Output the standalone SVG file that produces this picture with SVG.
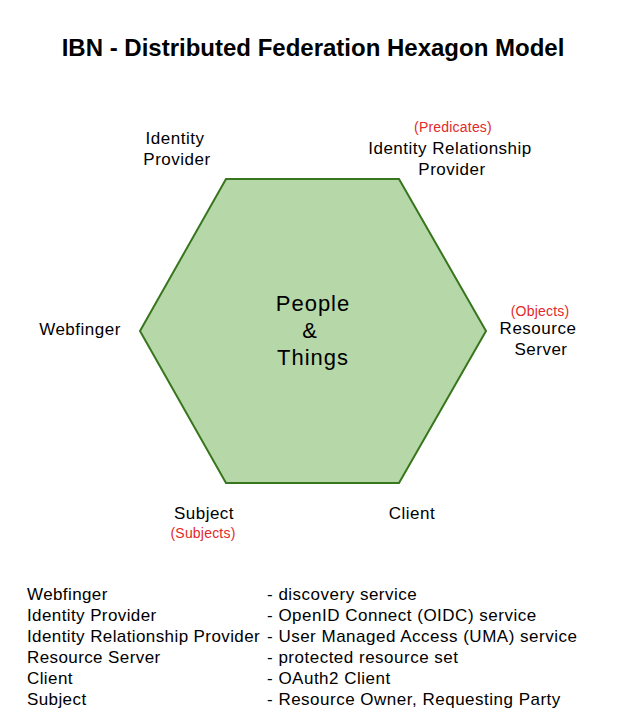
<svg xmlns="http://www.w3.org/2000/svg" width="624" height="720" viewBox="0 0 624 720">
<style>
text{font-family:"Liberation Sans",Arial,sans-serif;fill:#000}
.t{font-size:17px;letter-spacing:0.5px;text-anchor:middle}
.r{font-size:14px;letter-spacing:0.2px;text-anchor:middle;fill:#e12a2a}
.l{font-size:17px;letter-spacing:0.5px}
.ll{font-size:17px;letter-spacing:0.4px}
.title{font-size:24px;font-weight:bold;text-anchor:middle}
.c{font-size:22px;letter-spacing:1px;text-anchor:middle}
</style>
<rect width="624" height="720" fill="#fff"/>
<text class="title" x="313" y="56">IBN - Distributed Federation Hexagon Model</text>
<g id="hexagon">
<polygon points="226,179 399,179 486,331 399,483 226,483 140,331" fill="#b6d7a8" stroke="#38761d" stroke-width="2"/>
<text class="c" x="313" y="311">People</text>
<text class="c" x="310" y="338">&amp;</text>
<text class="c" x="313" y="365">Things</text>
</g>
<g id="identity-provider">
<text class="t" x="175" y="144">Identity</text>
<text class="t" x="177" y="165">Provider</text>
</g>
<g id="identity-relationship-provider">
<text class="r" x="453" y="132">(Predicates)</text>
<text class="t" x="450" y="154">Identity Relationship</text>
<text class="t" x="452" y="175">Provider</text>
</g>
<g id="webfinger">
<text class="t" x="80" y="335">Webfinger</text>
</g>
<g id="resource-server">
<text class="r" x="540" y="316">(Objects)</text>
<text class="t" x="538" y="334">Resource</text>
<text class="t" x="541" y="355">Server</text>
</g>
<g id="subject">
<text class="t" x="204" y="519">Subject</text>
<text class="r" x="203" y="538">(Subjects)</text>
</g>
<g id="client">
<text class="t" x="412" y="519">Client</text>
</g>
<g id="connectors"></g>
<g id="legend">
<text class="ll" x="27" y="600">Webfinger</text>
<text class="l" x="267" y="600">- discovery service</text>
<text class="ll" x="27" y="621">Identity Provider</text>
<text class="l" x="267" y="621">- OpenID Connect (OIDC) service</text>
<text class="ll" x="27" y="642">Identity Relationship Provider</text>
<text class="l" x="267" y="642">- User Managed Access (UMA) service</text>
<text class="ll" x="27" y="663">Resource Server</text>
<text class="l" x="267" y="663">- protected resource set</text>
<text class="ll" x="27" y="684">Client</text>
<text class="l" x="267" y="684">- OAuth2 Client</text>
<text class="ll" x="27" y="705">Subject</text>
<text class="l" x="267" y="705">- Resource Owner, Requesting Party</text>
</g>
</svg>
